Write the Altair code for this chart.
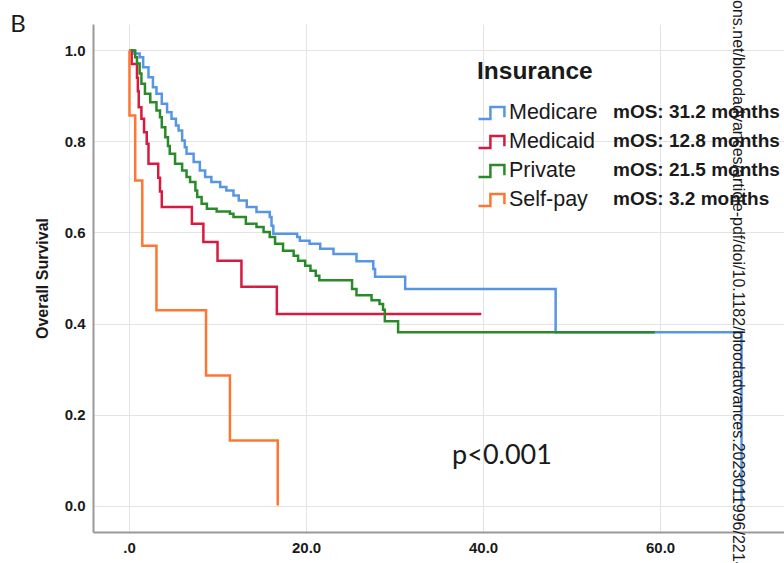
import altair as alt
import pandas as pd

groups = ["Medicare", "Medicaid", "Private", "Self-pay"]
mos_labels = ["mOS: 31.2 months", "mOS: 12.8 months", "mOS: 21.5 months", "mOS: 3.2 months"]
colors = ["#5796E4", "#D81A40", "#2A8A2A", "#FF7631"]

# Kaplan-Meier steps (months, survival probability)
medicare_t = [0, 0.6, 1.2, 1.6, 2.2, 2.7, 3.1, 3.7, 4.3, 4.8, 5.3, 5.6, 6.0, 6.3, 6.5, 7.3, 8.0, 8.6,
              9.3, 10.3, 11.0, 11.8, 12.4, 13.3, 14.4, 15.9, 16.1, 16.3, 19.0, 19.3, 20.4, 21.6,
              23.1, 25.7, 27.6, 27.8, 31.2, 48.2, 69.2]
medicare_s = [1.0, 0.993, 0.985, 0.963, 0.941, 0.919, 0.905, 0.883, 0.864, 0.85, 0.835, 0.824, 0.802,
              0.787, 0.773, 0.755, 0.736, 0.722, 0.711, 0.70, 0.692, 0.681, 0.67, 0.656, 0.645, 0.634,
              0.615, 0.597, 0.590, 0.582, 0.575, 0.564, 0.553, 0.537, 0.52, 0.503, 0.476, 0.381, 0.0]

medicaid_t = [0, 0.3, 0.9, 1.0, 1.1, 1.4, 1.7, 2.0, 2.2, 3.3, 3.5, 3.7, 7.1, 8.4, 10.0, 12.7, 16.7, 39.8]
medicaid_s = [1.0, 0.97, 0.94, 0.91, 0.875, 0.85, 0.82, 0.795, 0.751, 0.72, 0.69, 0.656, 0.619, 0.579,
              0.538, 0.481, 0.421, 0.421]

private_t = [0, 0.7, 0.9, 1.2, 1.4, 1.8, 2.4, 3.1, 3.5, 3.7, 4.1, 4.4, 4.6, 5.2, 6.0, 6.5, 6.9, 7.5,
             7.7, 8.2, 8.8, 9.9, 11.4, 11.8, 13.2, 14.4, 15.2, 15.9, 16.5, 17.4, 18.6, 19.1, 19.9,
             20.5, 21.1, 21.5, 25.2, 25.7, 27.4, 28.3, 28.7, 28.9, 30.4, 59.4]
private_s = [1.0, 0.985, 0.971, 0.949, 0.927, 0.905, 0.886, 0.868, 0.853, 0.831, 0.809, 0.79, 0.773,
             0.751, 0.736, 0.722, 0.711, 0.692, 0.678, 0.663, 0.652, 0.646, 0.641, 0.634, 0.619,
             0.612, 0.601, 0.59, 0.575, 0.56, 0.549, 0.538, 0.527, 0.516, 0.505, 0.495, 0.476,
             0.462, 0.451, 0.443, 0.43, 0.405, 0.381, 0.381]

selfpay_t = [0, 0.05, 0.7, 1.5, 3.1, 8.7, 11.4, 16.8]
selfpay_s = [1.0, 0.857, 0.714, 0.571, 0.429, 0.286, 0.143, 0.0]

x_ticks = [0, 20, 40, 60]
y_ticks = [0.0, 0.2, 0.4, 0.6, 0.8, 1.0]

series_t = [medicare_t, medicaid_t, private_t, selfpay_t]
series_s = [medicare_s, medicaid_s, private_s, selfpay_s]

rows = []
for g, m, ts, ss in zip(groups, mos_labels, series_t, series_s):
    for t, s in zip(ts, ss):
        rows.append({"group": g, "mos": m, "t": t, "s": s})
df = pd.DataFrame(rows)

FONT = "Liberation Sans"
x_scale = alt.Scale(domain=[-4.07, 74.0], nice=False, zero=False)
y_scale = alt.Scale(domain=[-0.058, 1.058], nice=False, zero=False)

lines = alt.Chart(df).mark_line(interpolate="step-after", strokeWidth=2.5, clip=True).encode(
    x=alt.X("t:Q", scale=x_scale,
            axis=alt.Axis(values=x_ticks, title=None,
                          labelExpr="datum.value == 0 ? '.0' : format(datum.value, '.1f')")),
    y=alt.Y("s:Q", scale=y_scale,
            axis=alt.Axis(values=y_ticks, format=".1f", title="Overall Survival")),
    color=alt.Color("group:N", scale=alt.Scale(domain=groups, range=colors),
                    legend=alt.Legend(title="Insurance", orient="none", legendX=384, legendY=36,
                                      titleFont=FONT, titleFontSize=24.5, titleFontWeight="bold",
                                      titleColor="#1a1a1a", labelFont=FONT, labelFontSize=21.5,
                                      labelColor="#1a1a1a", symbolType="M-1,0.43H-0.15V-0.43H0.85V0.3",
                                      symbolSize=784, symbolStrokeWidth=2.5,
                                      symbolFillColor="transparent", rowPadding=2, titlePadding=13,
                                      labelOffset=1, padding=0, labelLimit=400)),
    strokeDash=alt.StrokeDash("mos:N", scale=alt.Scale(domain=mos_labels, range=[[1, 0]] * 4),
                              legend=alt.Legend(title=None, orient="none", legendX=501, legendY=78,
                                                labelFont=FONT, labelFontSize=19,
                                                labelFontWeight="bold", labelColor="#1a1a1a",
                                                symbolOpacity=0, symbolSize=1, labelOffset=0,
                                                rowPadding=9.3, padding=0, labelLimit=400)),
)

p_text = alt.Chart(pd.DataFrame({"label": ["p<0.001"]})).mark_text(
    align="left", baseline="middle", font="Lato", fontSize=27, color="#1a1a1a"
).encode(x=alt.datum(36.5, scale=x_scale), y=alt.datum(0.11), text="label:N")

b_text = alt.Chart(pd.DataFrame({"label": ["B"]})).mark_text(
    align="center", baseline="middle", font="Lato", fontSize=24, color="#1a1a1a"
).encode(x=alt.value(-75), y=alt.value(1), text="label:N")

wm_text = alt.Chart(pd.DataFrame(
    {"label": ["ons.net/bloodadvances/article-pdf/doi/10.1182/bloodadvances.2023011996/2214"]}
)).mark_text(align="left", baseline="middle", angle=90, font=FONT, fontSize=16, color="#1a1a1a"
).encode(x=alt.value(645), y=alt.value(-24), text="label:N")

chart = alt.layer(lines, p_text, b_text, wm_text).properties(
    width=691, height=508,
    padding={"left": 93, "top": 24, "right": 0, "bottom": 31},
    autosize=alt.AutoSizeParams(type="none"),
    background="white",
).configure_view(stroke=None).configure_axis(
    domainColor="#999999", domainWidth=2, ticks=False,
    gridColor="#e4e4e4", gridWidth=1,
    labelFont=FONT, labelFontWeight="bold", labelFontSize=15, labelColor="#1a1a1a",
    titleFont=FONT, titleFontWeight="bold", titleFontSize=16, titleColor="#1a1a1a",
).configure_axisX(labelPadding=8).configure_axisY(labelPadding=8, titlePadding=14)

chart.save("out.html", embed_options={"renderer": "svg", "actions": False})
